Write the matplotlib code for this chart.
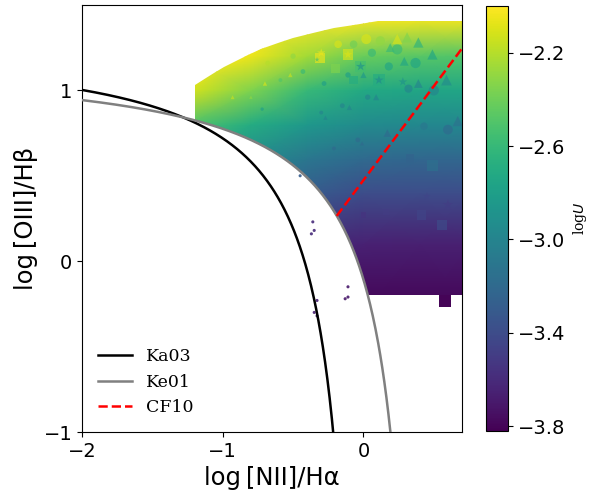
import numpy as np
import matplotlib
matplotlib.use("Agg")
import matplotlib.pyplot as plt
from matplotlib.patches import Polygon

# logU map sampled on a coarse node grid (rows: y nodes, cols: x nodes)
grid_x = [-1.25, -0.8, -0.4, 0.0, 0.4, 0.75]
grid_y = [-0.3, 0.1, 0.4, 0.6, 0.8, 1.0, 1.2, 1.42]
grid_logu = [
    [-3.72, -3.78, -3.82, -3.82, -3.82, -3.82],
    [-3.40, -3.50, -3.60, -3.65, -3.66, -3.66],
    [-3.10, -3.20, -3.30, -3.40, -3.40, -3.40],
    [-2.85, -2.95, -3.10, -3.20, -3.22, -3.22],
    [-2.50, -2.70, -2.85, -2.95, -2.97, -2.98],
    [-2.10, -2.35, -2.60, -2.72, -2.75, -2.75],
    [-2.00, -2.05, -2.25, -2.42, -2.48, -2.50],
    [-2.00, -2.00, -2.00, -2.02, -2.03, -2.03],
]

# upper envelope of the model coverage
top_x = [-1.20, -1.12, -1.06, -0.99, -0.89, -0.82, -0.73, -0.61, -0.50,
         -0.36, -0.21, -0.07, 0.10, 0.75]
top_y = [1.032, 1.073, 1.103, 1.138, 1.179, 1.208, 1.243, 1.279, 1.308,
         1.337, 1.367, 1.384, 1.408, 1.408]
cov_xmin, cov_ymin = -1.2, -0.2

# model points: x, y, logU, size
circ_x = [0.02, 0.12, 0.24, 0.06, 0.37, 0.18, 0.50, 0.32, -0.18, -0.07, 0.60, 0.43,
          0.03, -0.11, -0.28, -0.43, -0.50, -0.68, -0.59, -0.72, -0.15, -0.30, -0.04, -0.21]
circ_y = [1.30, 1.29, 1.24, 1.22, 1.16, 1.14, 1.00, 1.01, 1.27, 1.27, 0.77, 0.79,
          0.96, 1.09, 1.04, 1.11, 1.20, 1.16, 1.06, 0.89, 0.91, 0.87, 0.71, 0.66]
circ_c = [-2.10, -2.30, -2.60, -2.60, -2.75, -2.75, -3.00, -3.00, -2.10, -2.40, -3.20, -3.10,
          -3.00, -2.80, -2.80, -2.60, -2.30, -2.20, -2.50, -2.80, -3.00, -3.00, -3.20, -3.20]
circ_s = [52, 45, 55, 35, 55, 35, 55, 35, 30, 30, 50, 30,
          15, 15, 12, 12, 15, 12, 8, 6, 12, 8, 12, 8]

tri_x = [0.24, 0.31, 0.39, 0.19, 0.49, 0.29, 0.59, 0.39, 0.67, 0.17, 0.09,
         -0.70, -0.93, -0.52, -0.80, 0.00, -0.27, -0.10, -0.01]
tri_y = [1.30, 1.31, 1.28, 1.25, 1.21, 1.17, 1.06, 1.04, 0.82, 0.75, 0.96,
         1.04, 0.96, 1.09, 0.96, 1.09, 0.84, 0.90, 0.69]
tri_c = [-2.10, -2.35, -2.65, -2.60, -2.75, -2.75, -2.95, -3.00, -3.15, -3.20, -3.00,
         -2.10, -2.15, -2.15, -2.30, -2.85, -3.00, -3.00, -3.20]
tri_s = [55, 55, 55, 40, 55, 40, 60, 40, 55, 30, 20,
         10, 8, 10, 6, 20, 10, 15, 10]

sq_x = [-0.02, 0.11, -0.11, -0.31, 0.33, 0.49, 0.41, 0.56, 0.16, 0.00, -0.07, -0.20]
sq_y = [1.14, 1.06, 1.21, 1.19, 0.60, 0.56, 0.27, 0.21, 0.29, 0.27, 1.06, 1.13]
sq_c = [-2.55, -2.70, -2.10, -2.05, -3.25, -3.15, -3.45, -3.40, -3.50, -3.55, -2.70, -2.35]
sq_s = [70, 70, 60, 50, 40, 60, 45, 55, 20, 15, 40, 40]

star_x = [-0.02, 0.11, -0.11, -0.30, 0.28, 0.60, 0.45, -0.33]
star_y = [1.14, 1.06, 1.21, 1.22, 1.05, 0.33, 0.38, 1.18]
star_c = [-2.90, -2.95, -2.10, -2.05, -2.90, -3.50, -3.45, -2.55]
star_s = [50, 50, 40, 40, 45, 60, 35, 15]

# lowest model square, sitting below the coverage cut
low_x, low_y, low_c = [0.58], [-0.235], [-3.80]

# isolated points between the demarcation curves
dot_x = [-0.36, -0.37, -0.35, -0.11, -0.13, -0.11, -0.33, -0.35, -0.33, -0.45]
dot_y = [0.23, 0.16, 0.18, -0.15, -0.22, -0.21, -0.23, -0.30, -0.32, 0.50]
dot_c = [-3.60, -3.60, -3.60, -3.70, -3.70, -3.70, -3.65, -3.65, -3.65, -3.30]

# CF10 segment end points
cf10_x = [-0.19, 0.70]
cf10_y = [0.265, 1.245]

VMIN, VMAX = -3.82, -2.0


def ka03(x):
    return 0.61 / (x - 0.05) + 1.3


def ke01(x):
    return 0.61 / (x - 0.47) + 1.19


fig = plt.figure(figsize=(5.9, 4.94), dpi=100)
ax = fig.add_axes([0.139, 0.1255, 0.644, 0.8645])
cax = fig.add_axes([0.824, 0.1275, 0.037, 0.8605])

# coverage polygon: top envelope, right edge, bottom cut, Ke01 curve
x_cut = 0.47 - 0.61 / (1.19 - cov_ymin)
xk = np.linspace(x_cut, cov_xmin, 200)
poly = list(zip(top_x, top_y)) + [(0.75, cov_ymin), (x_cut, cov_ymin)] + \
    list(zip(xk, ke01(xk)))
clip = Polygon(poly, closed=True, transform=ax.transData, facecolor="none",
               edgecolor="none")

gx, gy = np.meshgrid(grid_x, grid_y)
mesh = ax.pcolormesh(gx, gy, np.array(grid_logu), shading="gouraud",
                     cmap="viridis", vmin=VMIN, vmax=VMAX, zorder=1)
mesh.set_clip_path(clip)

kw = dict(cmap="viridis", vmin=VMIN, vmax=VMAX, linewidths=0, zorder=2)
ax.scatter(circ_x, circ_y, c=circ_c, s=circ_s, marker="o", alpha=0.65, **kw)
ax.scatter(tri_x, tri_y, c=tri_c, s=tri_s, marker="^", alpha=0.65, **kw)
ax.scatter(sq_x, sq_y, c=sq_c, s=sq_s, marker="s", alpha=0.65, **kw)
ax.scatter(star_x, star_y, c=star_c, s=star_s, marker="*", alpha=0.65, **kw)
ax.scatter(low_x, low_y, c=low_c, s=75, marker="s", **kw)
ax.scatter(dot_x, dot_y, c=dot_c, s=5, marker="o", alpha=0.9, **kw)

x1 = np.linspace(-2.0, 0.0, 500)
x2 = np.linspace(-2.0, 0.42, 500)
ax.plot(x1, ka03(x1), color="black", lw=1.8, label="Ka03", zorder=3)
ax.plot(x2, ke01(x2), color="gray", lw=1.8, label="Ke01", zorder=3)
ax.plot(cf10_x, cf10_y, color="red", ls="--", lw=1.8, label="CF10", zorder=3)

ax.set_xlim(-2.0, 0.7)
ax.set_ylim(-1.0, 1.5)
ax.set_xticks([-2, -1, 0])
ax.set_yticks([-1, 0, 1])
ax.tick_params(labelsize=14)
ax.set_xlabel("log\u2009[NII]/H\u03b1", fontsize=17.5)
ax.set_ylabel("log\u2009[OIII]/H\u03b2", fontsize=17.5)
ax.legend(loc="lower left", frameon=False, prop={"family": "serif", "size": 12.5})

cb = fig.colorbar(mesh, cax=cax, ticks=[-2.2, -2.6, -3.0, -3.4, -3.8])
cb.ax.tick_params(labelsize=14)
cb.set_label("log$U$", family="serif", fontsize=10, labelpad=4)

fig.savefig("out.png", dpi=100)
